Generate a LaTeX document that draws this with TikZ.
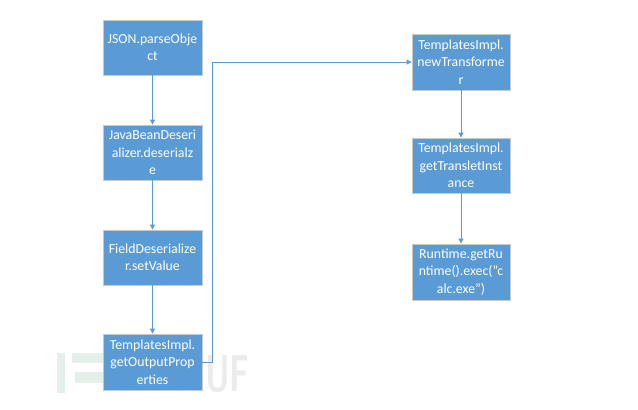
\documentclass[tikz,border=0pt]{standalone}
\usepackage{fontspec}
\setmainfont{Carlito}
\usetikzlibrary{arrows.meta}
\definecolor{boxblue}{HTML}{5B9BD5}
\definecolor{boxedge}{HTML}{C8C8C8}
\definecolor{wm}{HTML}{EBEBEB}
\definecolor{wmgreen}{HTML}{E4EFEA}
\tikzset{
  stepbox/.style={draw=boxedge, line width=0.8pt, fill=boxblue, text=white,
    minimum width=99pt, minimum height=55pt, inner sep=1pt, align=center,
    font=\fontsize{13.8}{17.5}\selectfont},
  conn/.style={draw=boxblue, line width=0.8pt, -{Triangle[length=5pt,width=5pt]}},
}
\begin{document}
\begin{tikzpicture}[x=1pt,y=-1pt]
\useasboundingbox[fill=white] (0,0) rectangle (638,410);
% watermark
\fill[wmgreen] (57,353) rectangle (65,393);
\fill[wmgreen] (72,353) rectangle (103,363);
\fill[wmgreen] (75,372) rectangle (103,383);
\node[font=\fontsize{52}{52}\selectfont\bfseries\sffamily, text=wm, anchor=west,
  xscale=0.62, transform shape, inner sep=0pt] (wmark) at (205,374) {UF};
\node[stepbox] (a) at (152.5,47.5) {JSON.parseObje\\ct};
\node[stepbox] (b) at (152.5,152.5) {JavaBeanDeseri\\alizer.deserialz\\e};
\node[stepbox] (c) at (152.5,257.5) {FieldDeserialize\\r.setValue};
\node[stepbox, minimum height=56pt] (d) at (152.5,362) {TemplatesImpl.\\getOutputProp\\erties};
\node[stepbox, minimum width=98pt, minimum height=56pt] (e) at (461,62) {TemplatesImpl.\\newTransforme\\r};
\node[stepbox, minimum width=98pt] (f) at (461,165.5) {TemplatesImpl.\\getTransletInst\\ance};
\node[stepbox, minimum width=98pt, minimum height=56pt] (g) at (461,272) {Runtime.getRu\\ntime().exec("c\\alc.exe")};
\draw[conn] (a) -- (b);
\draw[conn] (b) -- (c);
\draw[conn] (c) -- (d);
\coordinate (k1) at (212,362);
\coordinate (k2) at (212,62);
\draw[conn] (d.east) -- (k1) -- (k2) -- (e.west);
\draw[conn] (e) -- (f);
\draw[conn] (f) -- (g);
\end{tikzpicture}
\end{document}
